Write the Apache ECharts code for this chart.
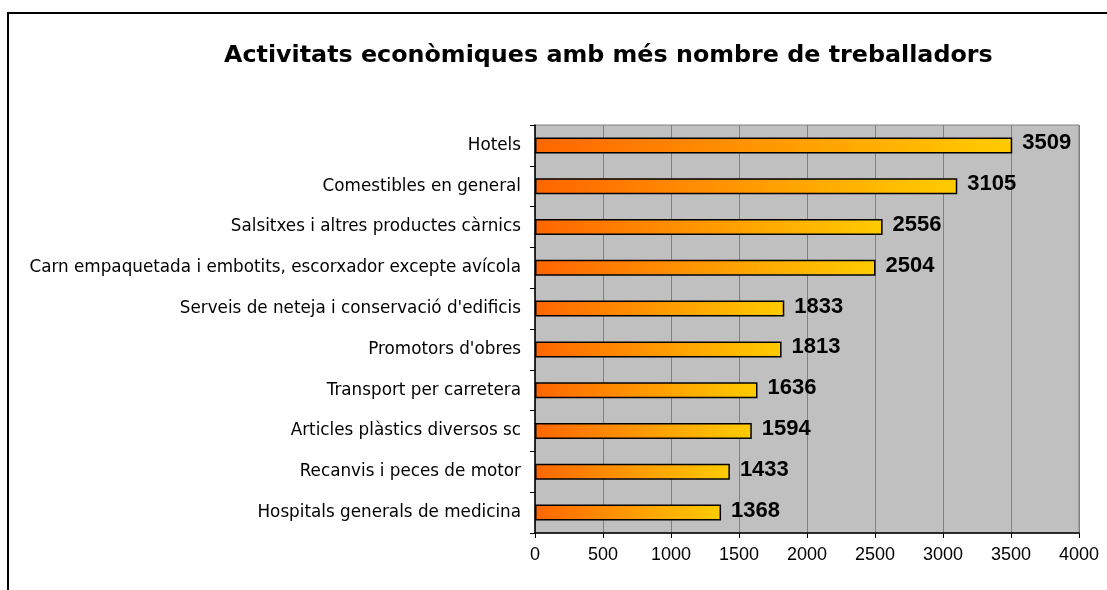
<!DOCTYPE html>
<html>
<head>
<meta charset="utf-8">
<script src="https://cdn.jsdelivr.net/npm/echarts@6/dist/echarts.min.js"></script>
<style>html,body{margin:0;padding:0;background:#fff;}#c{width:1107px;height:590px;}</style>
</head>
<body>
<div id="c"></div>
<script>
const titleText = "Activitats econòmiques amb més nombre de treballadors";
const categories = [
  "Hotels",
  "Comestibles en general",
  "Salsitxes i altres productes càrnics",
  "Carn empaquetada i embotits, escorxador excepte avícola",
  "Serveis de neteja i conservació d'edificis",
  "Promotors d'obres",
  "Transport per carretera",
  "Articles plàstics diversos sc",
  "Recanvis i peces de motor",
  "Hospitals generals de medicina"
];
const values = [3509, 3105, 2556, 2504, 1833, 1813, 1636, 1594, 1433, 1368];
const xTicks = [0, 500, 1000, 1500, 2000, 2500, 3000, 3500, 4000];

const chart = echarts.init(document.getElementById('c'));
const fontA = "'Liberation Sans', Arial, sans-serif";
const fontW = "'DejaVu Sans', sans-serif";
chart.setOption({
  animation: false,
  backgroundColor: '#ffffff',
  title: {
    text: titleText,
    left: 219, top: 39,
    textStyle: { fontFamily: fontW, fontSize: 23.8, fontWeight: 'bold', color: '#000' }
  },
  graphic: [{
    type: 'rect', silent: true, z: 100,
    shape: { x: 8, y: 13, width: 1300, height: 800 },
    style: { fill: 'none', stroke: '#000', lineWidth: 2 }
  }],
  grid: {
    left: 535, right: 28, top: 125, bottom: 57,
    show: true, backgroundColor: '#C0C0C0', borderColor: '#808080', borderWidth: 1
  },
  xAxis: {
    type: 'value', min: xTicks[0], max: xTicks[xTicks.length - 1], interval: xTicks[1] - xTicks[0],
    axisLine: { show: true, lineStyle: { color: '#000', width: 1.5 } },
    axisTick: { show: true, length: 5, lineStyle: { color: '#000' } },
    axisLabel: { fontFamily: fontA, fontSize: 18, color: '#000', margin: 13, formatter: function (v) { return String(v); } },
    splitLine: { show: true, lineStyle: { color: '#808080', width: 1 } }
  },
  yAxis: {
    type: 'category', data: categories, inverse: true,
    axisLine: { show: true, lineStyle: { color: '#000', width: 1.5 } },
    axisTick: { show: true, length: 5, lineStyle: { color: '#000' } },
    axisLabel: { fontFamily: fontW, fontSize: 16.8, color: '#000', margin: 14 }
  },
  series: [{
    type: 'bar', data: values, barWidth: 16,
    itemStyle: {
      borderColor: '#000', borderWidth: 1.5,
      color: new echarts.graphic.LinearGradient(0, 0, 1, 0, [
        { offset: 0, color: '#FF6600' },
        { offset: 0.5, color: '#FF9900' },
        { offset: 1, color: '#FFCC00' }
      ])
    },
    label: {
      show: true, position: 'right', distance: 10, offset: [0, -2],
      fontFamily: fontA, fontSize: 22, fontWeight: 'bold', color: '#000'
    }
  }]
});
</script>
</body>
</html>
